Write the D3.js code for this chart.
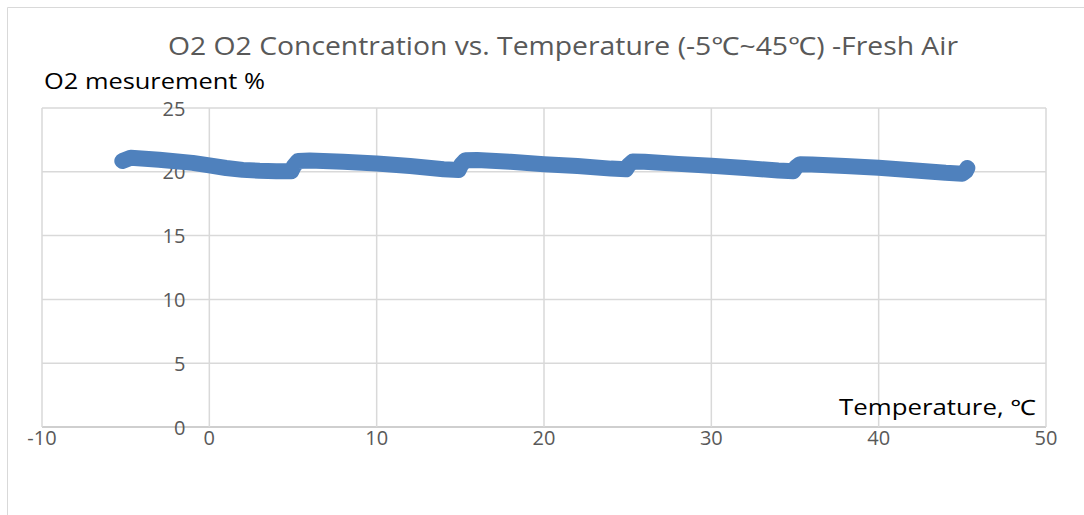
<!DOCTYPE html>
<html>
<head>
<meta charset="utf-8">
<script src="https://cdn.jsdelivr.net/npm/d3@7/dist/d3.min.js"></script>
<style>
  html, body { margin: 0; padding: 0; background: #fff; }
  svg { display: block; font-family: "Open Sans", "Noto Sans", sans-serif; }
</style>
</head>
<body>
<svg id="chart" width="1084" height="515"></svg>
<script>
const titleText = "O2 O2 Concentration vs. Temperature (-5\u2103~45\u2103) -Fresh Air";
const yTitle = "O2 mesurement %";
const xTitle = "Temperature, \u2103";
const xTicks = [-10, 0, 10, 20, 30, 40, 50];
const yTicks = [0, 5, 10, 15, 20, 25];

const temperature = [-5.2, -4.7, -3, -1, 0, 1, 2, 3, 4, 4.9,
  5.05, 5.3, 6, 8, 10, 12, 14, 14.9,
  15.05, 15.3, 16, 18, 20, 22, 24, 24.9,
  25.05, 25.3, 26, 28, 30, 32, 34, 34.9,
  35.05, 35.3, 36, 38, 40, 42, 44, 45.0,
  45.2, 45.3];
const o2 = [20.85, 21.1, 20.95, 20.7, 20.5, 20.3, 20.15, 20.08, 20.05, 20.05,
  20.45, 20.85, 20.88, 20.78, 20.65, 20.45, 20.2, 20.15,
  20.55, 20.9, 20.92, 20.78, 20.6, 20.45, 20.25, 20.2,
  20.5, 20.8, 20.78, 20.62, 20.47, 20.3, 20.1, 20.05,
  20.35, 20.6, 20.58, 20.45, 20.31, 20.12, 19.92, 19.85,
  20.05, 20.3];

const svg = d3.select("#chart");
const x = d3.scaleLinear().domain([-10, 50]).range([42, 1046]);
const y = d3.scaleLinear().domain([0, 25]).range([427, 108]);

// outer chart border (top & left)
svg.append("line").attr("x1", 7.5).attr("x2", 1084).attr("y1", 7.5).attr("y2", 7.5)
  .attr("stroke", "#d9d9d9").attr("stroke-width", 1);
svg.append("line").attr("x1", 7.5).attr("x2", 7.5).attr("y1", 7.5).attr("y2", 515)
  .attr("stroke", "#d9d9d9").attr("stroke-width", 1);

// gridlines
const grid = svg.append("g");
grid.selectAll(".hg").data(yTicks).join("line")
  .attr("x1", x(-10)).attr("x2", x(50))
  .attr("y1", d => y(d)).attr("y2", d => y(d))
  .attr("stroke", d => d === 0 ? "#bfbfbf" : "#d9d9d9").attr("stroke-width", 1.5);
grid.selectAll(".vg").data(xTicks).join("line")
  .attr("x1", d => x(d)).attr("x2", d => x(d))
  .attr("y1", y(25)).attr("y2", y(0))
  .attr("stroke", "#d9d9d9").attr("stroke-width", 1.5);

// y axis labels (at x = 0)
svg.append("g").selectAll("text").data(yTicks).join("text")
  .attr("x", x(0) - 24).attr("y", d => y(d))
  .attr("dy", "0.38em")
  .attr("text-anchor", "end")
  .attr("fill", "#595959").attr("font-size", 20)
  .text(d => d);

// x axis labels
svg.append("g").selectAll("text").data(xTicks).join("text")
  .attr("x", d => x(d)).attr("y", 445)
  .attr("text-anchor", "middle")
  .attr("fill", "#595959").attr("font-size", 20)
  .text(d => d);

// line
const line = d3.line().x((d, i) => x(temperature[i])).y(d => y(d)).curve(d3.curveLinear);
svg.append("path").datum(o2)
  .attr("d", line)
  .attr("fill", "none")
  .attr("stroke", "#4f81bd")
  .attr("stroke-width", 16)
  .attr("stroke-linejoin", "round")
  .attr("stroke-linecap", "round");

// titles
svg.append("text").attr("x", 563).attr("y", 55).attr("text-anchor", "middle")
  .attr("fill", "#595959").attr("font-size", 25)
  .attr("textLength", 790).attr("lengthAdjust", "spacingAndGlyphs")
  .text(titleText);
svg.append("text").attr("x", 44).attr("y", 89)
  .attr("fill", "#000").attr("font-size", 21)
  .attr("textLength", 221).attr("lengthAdjust", "spacingAndGlyphs")
  .text(yTitle);
svg.append("text").attr("x", 839).attr("y", 415)
  .attr("fill", "#000").attr("font-size", 21)
  .attr("textLength", 197).attr("lengthAdjust", "spacingAndGlyphs")
  .text(xTitle);
</script>
</body>
</html>
